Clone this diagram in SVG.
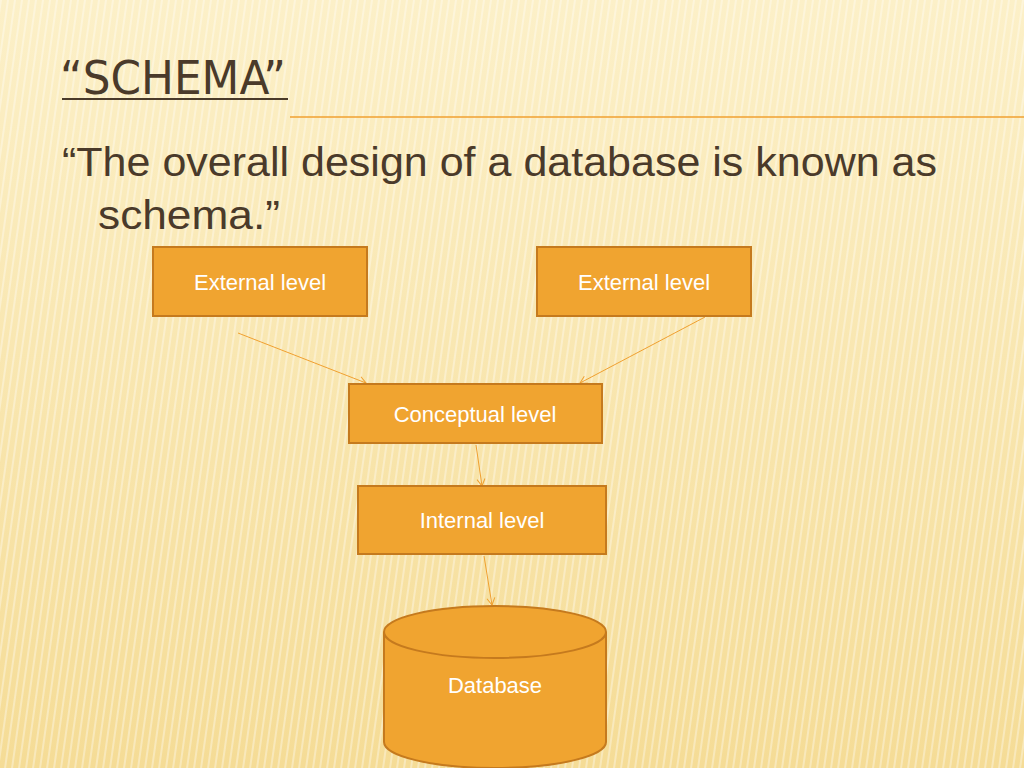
<svg xmlns="http://www.w3.org/2000/svg" width="1024" height="768" viewBox="0 0 1024 768">
<defs>
<linearGradient id="bg" x1="0" y1="0" x2="0" y2="1"><stop offset="0" stop-color="#FCF0C8"/><stop offset="1" stop-color="#F5DC96"/></linearGradient>
<pattern id="st" width="7" height="768" patternUnits="userSpaceOnUse" patternTransform="skewX(-8)"><rect width="2" height="768" fill="#FFFFFF" opacity="0.35"/></pattern>
<marker id="ah" markerWidth="10" markerHeight="10" refX="8" refY="5" orient="auto" markerUnits="userSpaceOnUse"><path d="M1,1 L8,5 L1,9" fill="none" stroke="#F0A030" stroke-width="1"/></marker>
</defs>
<style>
.box{fill:#F0A430;stroke:#C57A1E;stroke-width:2}
.lbl{font-family:"Liberation Sans",Arial,sans-serif;font-size:22px;fill:#FFFFFF;text-anchor:middle}
.c{stroke:#F0A030;stroke-width:1;fill:none;marker-end:url(#ah)}
</style>
<rect width="1024" height="768" fill="url(#bg)"/>
<rect x="0" y="0" width="1024" height="768" fill="url(#st)"/>
<text x="60" y="94" font-family="DejaVu Sans,sans-serif" font-stretch="condensed" font-size="46" fill="#4A3A2A" textLength="226" lengthAdjust="spacingAndGlyphs">“SCHEMA”</text>
<line x1="62" y1="99" x2="288" y2="99" stroke="#4A3A2A" stroke-width="2"/>
<line x1="290" y1="117" x2="1024" y2="117" stroke="#F0A030" stroke-width="1.5"/>
<text font-family="Liberation Sans,Arial,sans-serif" font-size="41" fill="#4A3A2A"><tspan x="62" y="176" textLength="875" lengthAdjust="spacingAndGlyphs">“The overall design of a database is known as</tspan><tspan x="98" y="229" textLength="182" lengthAdjust="spacingAndGlyphs">schema.”</tspan></text>
<g id="connectors">
<line class="c" x1="238" y1="333" x2="366" y2="383"/>
<line class="c" x1="705" y1="317" x2="580" y2="383"/>
<line class="c" x1="476" y1="445" x2="482" y2="486"/>
<line class="c" x1="484" y1="556" x2="492" y2="605"/>
</g>
<g id="ext1"><rect class="box" x="153" y="247" width="214" height="69"/><text class="lbl" x="260" y="290">External level</text></g>
<g id="ext2"><rect class="box" x="537" y="247" width="214" height="69"/><text class="lbl" x="644" y="290">External level</text></g>
<g id="concept"><rect class="box" x="349" y="384" width="253" height="59"/><text class="lbl" x="475" y="422">Conceptual level</text></g>
<g id="internal"><rect class="box" x="358" y="486" width="248" height="68"/><text class="lbl" x="482" y="528">Internal level</text></g>
<g id="db"><path class="box" d="M384,632 A111,26 0 0 1 606,632 L606,742 A111,26 0 0 1 384,742 Z"/><path d="M384,632 A111,26 0 0 0 606,632" fill="none" stroke="#C57A1E" stroke-width="2"/><text class="lbl" x="495" y="693">Database</text></g>
</svg>
